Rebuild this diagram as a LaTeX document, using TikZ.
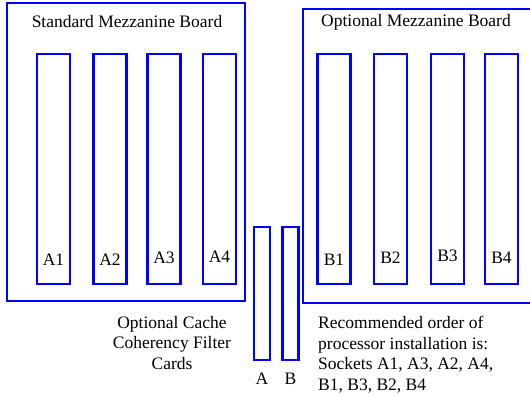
\documentclass[tikz,border=0pt]{standalone}
\usepackage{fontspec}
\setmainfont{Liberation Serif}
\usetikzlibrary{positioning}
\tikzset{
  board/.style = {draw = blue, line width = 2.4pt, inner sep = 0pt},
  slot/.style = {draw = blue, line width = 2.4pt, inner sep = 0pt, minimum width = 33pt, minimum height = 230pt},
  card/.style = {draw = blue, line width = 2.4pt, inner sep = 0pt, minimum width = 16pt, minimum height = 133pt},
  lbl/.style = {font = \fontsize{17.5}{20.5}\selectfont, inner sep = 0pt}
}
\begin{document}
\begin{tikzpicture}[x = 1pt, y = -1pt]
        \useasboundingbox (0, 0) rectangle (530, 396);
        \clip (0, 0) rectangle (530, 396);
        % mezzanine boards
        \node[board, minimum width = 238pt, minimum height = 298pt] (stdboard) at (126, 152) {};
        \node[board, minimum width = 237pt, minimum height = 294pt] (optboard) at (421.5, 156) {};
        \node[lbl, anchor = base] (stdtitle) at (127, 28) {Standard Mezzanine Board};
        \node[lbl, anchor = base] (opttitle) at (416, 27) {Optional Mezzanine Board};
        % processor sockets
        \foreach \name/\xpos/\ypos in {A1/53.5/265, A2/110/265, A3/164/263, A4/219.5/262, B1/334/265, B2/390.5/263, B3/447.5/261, B4/501.5/263}{
            \node[slot] (\name) at (\xpos, 169) {};
            \node[lbl, anchor = base] (\name-lbl) at (\xpos, \ypos) {\name};
        }
        % filter cards
        \foreach \name/\xpos in {A/262, B/290.5}{
            \node[card] (card\name) at (\xpos, 293.5) {};
            \node[lbl, anchor = base] (card\name-lbl) at (\xpos, 384) {\name};
        }
        \node[lbl, align = center, anchor = north] (cardtext) at (172, 316) {Optional Cache\\Coherency Filter\\Cards};
        \node[lbl, align = left, anchor = north west] (ordertext) at (318, 316) {Recommended order of\\processor installation is:\\Sockets A1, A3, A2, A4,\\B1, B3, B2, B4};
    \end{tikzpicture}
\end{document}
